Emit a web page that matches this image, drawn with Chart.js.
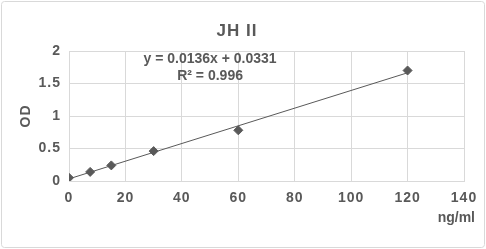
<!DOCTYPE html>
<html>
<head>
<meta charset="utf-8">
<script src="https://cdn.jsdelivr.net/npm/chart.js@4"></script>
<style>
  html, body { margin: 0; padding: 0; background: #fff; }
  #wrap { width: 486px; height: 249px; }
</style>
</head>
<body>
<div id="wrap"><canvas id="stdChart" width="486" height="249"></canvas></div>
<script>
// concentrations (ng/ml) and measured OD
const conc = [0, 7.5, 15, 30, 60, 120];
const od = [0.05, 0.14, 0.24, 0.46, 0.78, 1.70];
// linear trendline end points (y = 0.0136x + 0.0331)
const trendX = [0, 120];
const trendY = [0.033, 1.665];
const eqLines = ['y = 0.0136x + 0.0331', 'R\u00b2 = 0.996'];
const xTicks = [0, 20, 40, 60, 80, 100, 120, 140];
const yTicks = [0, 0.5, 1, 1.5, 2];

const grey = '#595959';
const gridGrey = '#d9d9d9';
const family = '"Liberation Sans", Arial, sans-serif';

const extras = {
  id: 'extras',
  beforeDraw(chart) {
    chart.ctx.letterSpacing = '1px';
  },
  afterDraw(chart) {
    const ctx = chart.ctx;
    const xs = chart.scales.x, ys = chart.scales.y, area = chart.chartArea;
    ctx.save();
    ctx.fillStyle = grey;
    ctx.font = 'bold 14px ' + family;
    ctx.letterSpacing = '0px';
    ctx.textAlign = 'center';
    ctx.textBaseline = 'middle';
    ctx.fillText(eqLines[0], xs.getPixelForValue(50), ys.getPixelForValue(1.88));
    ctx.fillText(eqLines[1], xs.getPixelForValue(50), ys.getPixelForValue(1.615));
    ctx.textAlign = 'right';
    ctx.fillText('ng/ml', area.right + 11, area.bottom + 37);
    // chart frame
    ctx.strokeStyle = gridGrey;
    ctx.lineWidth = 1;
    ctx.beginPath();
    ctx.roundRect(1.5, 1.5, 483, 246, 3);
    ctx.stroke();
    ctx.restore();
    ctx.letterSpacing = '0px';
  }
};

new Chart(document.getElementById('stdChart').getContext('2d'), {
  type: 'scatter',
  data: {
    datasets: [
      {
        label: 'OD',
        data: conc.map((x, i) => ({ x: x, y: od[i] })),
        pointStyle: 'rectRot',
        pointRadius: 4.5,
        backgroundColor: grey,
        borderColor: grey,
        borderWidth: 1,
        order: 1
      },
      {
        label: 'Linear',
        data: trendX.map((x, i) => ({ x: x, y: trendY[i] })),
        showLine: true,
        pointRadius: 0,
        borderColor: grey,
        borderWidth: 1,
        order: 2
      }
    ]
  },
  plugins: [extras],
  options: {
    responsive: false,
    animation: false,
    layout: { padding: { left: 10, right: 22, top: 10, bottom: 0 } },
    plugins: {
      legend: { display: false },
      tooltip: { enabled: false },
      title: {
        display: true,
        text: 'JH II',
        color: grey,
        font: { family: family, size: 17, weight: 'bold' },
        padding: { top: 11, bottom: 9.6 }
      }
    },
    scales: {
      x: {
        type: 'linear',
        min: 0,
        max: 140,
        afterBuildTicks: s => { s.ticks = xTicks.map(v => ({ value: v })); },
        afterFit: s => { s.height = 68; },
        grid: { color: gridGrey, drawTicks: false },
        border: { color: gridGrey },
        ticks: {
          color: grey,
          padding: 9,
          maxRotation: 0,
          callback: v => String(v),
          font: { family: family, size: 14, weight: 'bold' }
        }
      },
      y: {
        type: 'linear',
        min: 0,
        max: 2,
        afterBuildTicks: s => { s.ticks = yTicks.map(v => ({ value: v })); },
        afterFit: s => { s.width = 59; },
        grid: { color: gridGrey, drawTicks: false },
        border: { color: gridGrey },
        ticks: {
          color: grey,
          padding: 8,
          callback: v => String(v),
          font: { family: family, size: 14, weight: 'bold' }
        },
        title: {
          display: true,
          text: 'OD',
          color: grey,
          padding: { top: 8, bottom: 0 },
          font: { family: family, size: 14, weight: 'bold' }
        }
      }
    }
  }
});
</script>
</body>
</html>
